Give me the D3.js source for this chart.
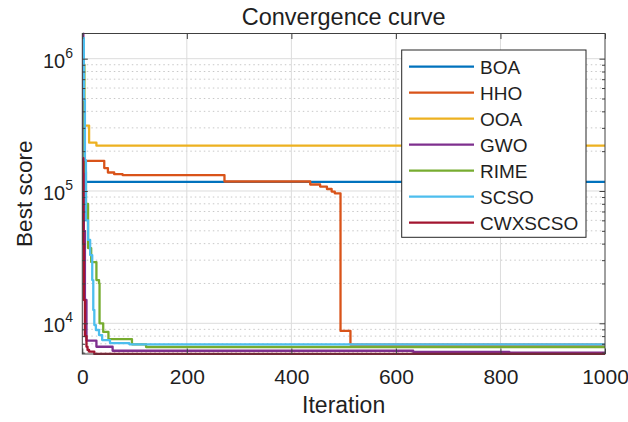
<!DOCTYPE html>
<html>
<head>
<meta charset="utf-8">
<script src="https://cdn.jsdelivr.net/npm/d3@7"></script>
<style>
  html, body { margin: 0; padding: 0; background: #ffffff; }
  svg { display: block; }
  text { font-family: "Liberation Sans", Arial, Helvetica, sans-serif; fill: #1f1f1f; }
</style>
</head>
<body>
<svg id="chart" width="628" height="422"></svg>
<script>
// ---------------- DATA ----------------
const seriesNames = ["BOA", "HHO", "OOA", "GWO", "RIME", "SCSO", "CWXSCSO"];
const seriesColors = ["#0072BD", "#D95319", "#EDB120", "#7E2F8E", "#77AC30", "#4DBEEE", "#A2142F"];

// step-change points: value becomes val[i] at iteration iter[i]
const BOA_iter = [1, 1000];
const BOA_val  = [1.17e5, 1.17e5];

const HHO_iter = [1, 42, 49, 61, 77, 272, 436, 455, 468, 477, 483, 494, 513, 1000];
const HHO_val  = [1.69e5, 1.49e5, 1.38e5, 1.34e5, 1.32e5, 1.18e5, 1.12e5, 1.08e5, 1.035e5, 9.9e4, 9.6e4, 8750, 6900, 6900];

const OOA_iter = [1, 13, 27, 1000];
const OOA_val  = [3.12e5, 2.32e5, 2.2e5, 2.2e5];

const GWO_iter = [1, 2, 3, 5, 8, 27, 58, 633, 817, 1000];
const GWO_val  = [1.55e6, 2.0e5, 5.0e4, 1.5e4, 7400, 6650, 6200, 6080, 6000, 6000];

const RIME_iter = [1, 4, 7, 11, 17, 27, 32, 33, 40, 50, 95, 122, 1000];
const RIME_val  = [9.0e5, 1.4e5, 8.0e4, 3.7e4, 2.9e4, 2.12e4, 2.0e4, 1.0e4, 8600, 7600, 6940, 6620, 6620];

const SCSO_iter = [1, 3, 5, 7, 11, 15, 19, 21, 23, 26, 32, 38, 53, 90, 1000];
const SCSO_val  = [1.43e6, 4.9e5, 1.71e5, 6.0e4, 4.27e4, 3.28e4, 2.12e4, 1.26e4, 9700, 8900, 8150, 7470, 7090, 6930, 6930];

const CWXSCSO_iter = [1, 2, 3, 5, 8, 10, 13, 23, 1000];
const CWXSCSO_val  = [1.77e5, 4.0e4, 1.5e4, 8000, 6650, 6280, 6100, 5860, 5860];

const xTicks = [0, 200, 400, 600, 800, 1000];
const yMajorTicks = [1e4, 1e5, 1e6];
const yTickExponents = ["4", "5", "6"];

const titleText = "Convergence curve";
const xLabelText = "Iteration";
const yLabelText = "Best score";

// ---------------- BUILD ----------------
const iters = [BOA_iter, HHO_iter, OOA_iter, GWO_iter, RIME_iter, SCSO_iter, CWXSCSO_iter];
const vals  = [BOA_val, HHO_val, OOA_val, GWO_val, RIME_val, SCSO_val, CWXSCSO_val];
const series = seriesNames.map((n, i) => ({
  name: n, color: seriesColors[i],
  pts: iters[i].map((it, j) => ({ it: it, v: vals[i][j] }))
}));

const L = 82.3, R = 605, T = 33.5, B = 354;
const svg = d3.select("#chart");
svg.append("rect").attr("width", 628).attr("height", 422).attr("fill", "#ffffff");

const allVals = vals.flat();
const x = d3.scaleLinear().domain([0, 1000]).range([L, R]);
const y = d3.scaleLog().domain([d3.min(allVals), d3.max(allVals)]).range([B, T]);

// minor tick values
const [yLo, yHi] = y.domain();
const yMinor = [];
for (let k = Math.floor(Math.log10(yLo)); k <= Math.ceil(Math.log10(yHi)); k++) {
  for (let m = 2; m <= 9; m++) {
    const v = m * Math.pow(10, k);
    if (v >= yLo && v <= yHi) yMinor.push(v);
  }
}

// plot background
svg.append("rect").attr("x", L).attr("y", T).attr("width", R - L).attr("height", B - T).attr("fill", "#ffffff");

// grids
const grid = svg.append("g");
grid.selectAll("line.minor").data(yMinor).enter().append("line")
  .attr("x1", L).attr("x2", R)
  .attr("y1", d => y(d)).attr("y2", d => y(d))
  .attr("stroke", "#c8c8c8").attr("stroke-width", 1).attr("stroke-dasharray", "1.5,3");
grid.selectAll("line.ymaj").data(yMajorTicks).enter().append("line")
  .attr("x1", L).attr("x2", R)
  .attr("y1", d => y(d)).attr("y2", d => y(d))
  .attr("stroke", "#dcdcdc").attr("stroke-width", 1);
grid.selectAll("line.xmaj").data(xTicks.slice(1, -1)).enter().append("line")
  .attr("y1", T).attr("y2", B)
  .attr("x1", d => x(d)).attr("x2", d => x(d))
  .attr("stroke", "#dcdcdc").attr("stroke-width", 1);

// clip
svg.append("clipPath").attr("id", "clip").append("rect")
  .attr("x", L - 0.5).attr("y", T - 1).attr("width", R - L + 1).attr("height", B - T + 2);

const line = d3.line().x(d => x(d.it)).y(d => y(d.v)).curve(d3.curveStepAfter);
const lines = svg.append("g").attr("clip-path", "url(#clip)");
series.forEach(s => {
  lines.append("path").datum(s.pts)
    .attr("d", line)
    .attr("fill", "none")
    .attr("stroke", s.color)
    .attr("stroke-width", 2.3)
    .attr("stroke-linejoin", "round");
});

// axes
const axColor = "#404040";
function styleAxis(g) {
  g.select(".domain").remove();
  g.selectAll(".tick line").attr("stroke", axColor);
  g.selectAll("text").attr("fill", "#1f1f1f");
}
svg.append("g").attr("transform", `translate(0,${B})`)
  .call(d3.axisBottom(x).tickValues(xTicks).tickSizeInner(-5.5).tickSizeOuter(0).tickPadding(15.5).tickFormat(d3.format("d")))
  .call(styleAxis)
  .call(g => g.selectAll("text").style("font-size", "21px").style("font-family", "Liberation Sans, Arial, sans-serif"));
svg.append("g").attr("transform", `translate(0,${T})`)
  .call(d3.axisTop(x).tickValues(xTicks).tickSizeInner(-5.5).tickSizeOuter(0).tickFormat(""))
  .call(styleAxis);

svg.append("g").attr("transform", `translate(${L},0)`)
  .call(d3.axisLeft(y).tickValues(yMajorTicks).tickSizeInner(-5.5).tickSizeOuter(0).tickFormat(""))
  .call(styleAxis);
svg.append("g").attr("transform", `translate(${L},0)`)
  .call(d3.axisLeft(y).tickValues(yMinor).tickSizeInner(-3).tickSizeOuter(0).tickFormat(""))
  .call(styleAxis);
svg.append("g").attr("transform", `translate(${R},0)`)
  .call(d3.axisRight(y).tickValues(yMajorTicks).tickSizeInner(-5.5).tickSizeOuter(0).tickFormat(""))
  .call(styleAxis);
svg.append("g").attr("transform", `translate(${R},0)`)
  .call(d3.axisRight(y).tickValues(yMinor).tickSizeInner(-3).tickSizeOuter(0).tickFormat(""))
  .call(styleAxis);

// y tick labels with superscripts
const yl = svg.append("g");
yMajorTicks.forEach((v, i) => {
  const t = yl.append("text").attr("x", 73).attr("y", y(v) + 9)
    .attr("text-anchor", "end").style("font-size", "20px");
  t.append("tspan").text("10");
  t.append("tspan").attr("dy", -10).style("font-size", "14px").text(yTickExponents[i]);
});

// box
svg.append("rect").attr("x", L).attr("y", T).attr("width", R - L).attr("height", B - T)
  .attr("fill", "none").attr("stroke", axColor).attr("stroke-width", 1);

// title and labels
svg.append("text").attr("x", (L + R) / 2).attr("y", 25).attr("text-anchor", "middle")
  .style("font-size", "23.5px").text(titleText);
svg.append("text").attr("x", (L + R) / 2).attr("y", 413).attr("text-anchor", "middle")
  .style("font-size", "23px").text(xLabelText);
svg.append("text").attr("transform", `translate(31.5,${(T + B) / 2}) rotate(-90)`)
  .attr("text-anchor", "middle").style("font-size", "22.5px").text(yLabelText);

// legend
const lg = svg.append("g");
lg.append("rect").attr("x", 401.7).attr("y", 50).attr("width", 184.3).attr("height", 187.3)
  .attr("fill", "#ffffff").attr("stroke", "#262626").attr("stroke-width", 1);
series.forEach((s, i) => {
  const cy = 66.7 + i * 26;
  lg.append("line").attr("x1", 409).attr("x2", 474).attr("y1", cy).attr("y2", cy)
    .attr("stroke", s.color).attr("stroke-width", 2.3);
  lg.append("text").attr("x", 480).attr("y", cy + 7).style("font-size", "19px").text(s.name);
});
</script>
</body>
</html>
